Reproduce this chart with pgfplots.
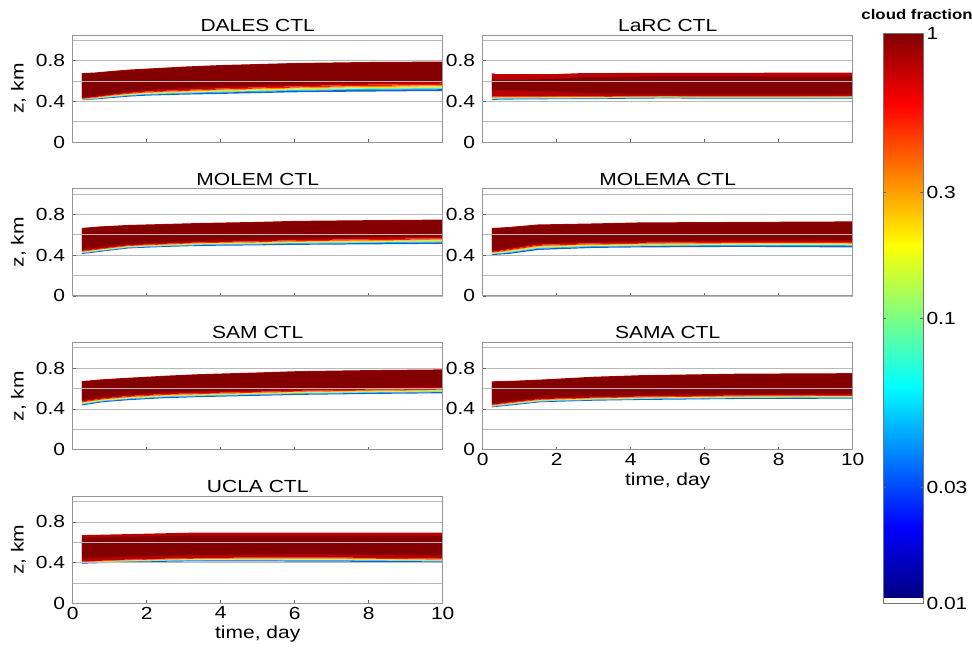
\documentclass[border=0pt]{standalone}
\usepackage{pgfplots}
\pgfplotsset{compat=1.18}
\usepgfplotslibrary{fillbetween}
\usepackage{pgfplotstable}
\usepackage{fontspec}
\setmainfont{Liberation Sans}[FakeStretch=1.2]

\definecolor{cdark}{RGB}{132,0,0}
\definecolor{cred}{RGB}{185,0,0}
\definecolor{cr2}{RGB}{235,20,0}
\definecolor{corange}{RGB}{255,130,0}
\definecolor{cyellow}{RGB}{255,225,0}
\definecolor{cgreen}{RGB}{140,255,120}
\definecolor{ccyan}{RGB}{0,205,255}
\definecolor{cblue}{RGB}{25,95,215}
\definecolor{axgray}{RGB}{150,150,150}
\definecolor{gridgray}{RGB}{185,185,185}

% t: time (day); top/base: cloud top and base of the solid cloud; ctop/cbot: dark core; low: lowest cloudy level
\pgfplotstableread{
t top ctop cbot base low
0.25 0.675 0.670 0.440 0.425 0.410
0.6 0.682 0.677 0.455 0.440 0.418
1.0 0.695 0.690 0.475 0.460 0.430
1.5 0.710 0.705 0.495 0.480 0.445
2 0.720 0.715 0.510 0.495 0.455
3 0.740 0.735 0.530 0.510 0.465
4 0.755 0.750 0.545 0.525 0.472
5 0.765 0.760 0.555 0.535 0.480
6 0.775 0.770 0.565 0.545 0.488
7 0.780 0.775 0.575 0.555 0.492
8 0.785 0.780 0.582 0.562 0.495
9 0.787 0.782 0.588 0.568 0.498
10 0.790 0.785 0.592 0.572 0.500
}\dales

\pgfplotstableread{
t top ctop cbot base low
0.25 0.675 0.620 0.500 0.445 0.410
0.4 0.665 0.610 0.510 0.445 0.415
1 0.665 0.610 0.505 0.445 0.418
2 0.667 0.620 0.495 0.447 0.420
2.6 0.675 0.635 0.480 0.448 0.420
4 0.678 0.640 0.475 0.450 0.425
5 0.678 0.645 0.470 0.452 0.428
6 0.678 0.645 0.470 0.450 0.425
8 0.680 0.645 0.470 0.450 0.425
10 0.680 0.645 0.470 0.452 0.425
}\larc

\pgfplotstableread{
t top ctop cbot base low
0.25 0.666 0.660 0.455 0.440 0.410
0.7 0.680 0.675 0.475 0.460 0.430
1.5 0.695 0.690 0.510 0.495 0.465
2.5 0.705 0.700 0.525 0.510 0.480
3.5 0.715 0.710 0.540 0.525 0.490
5 0.725 0.720 0.550 0.535 0.495
6 0.735 0.730 0.560 0.545 0.500
8 0.742 0.737 0.575 0.555 0.505
10 0.748 0.743 0.585 0.565 0.510
}\molem

\pgfplotstableread{
t top ctop cbot base low
0.25 0.665 0.660 0.445 0.430 0.400
0.7 0.675 0.670 0.470 0.455 0.410
1.5 0.700 0.695 0.515 0.500 0.450
3 0.710 0.705 0.530 0.515 0.470
4.25 0.720 0.715 0.535 0.520 0.475
7 0.725 0.720 0.545 0.530 0.480
10 0.730 0.725 0.545 0.530 0.475
}\molema

\pgfplotstableread{
t top ctop cbot base low
0.25 0.672 0.667 0.485 0.472 0.433
0.8 0.690 0.685 0.515 0.500 0.465
1.5 0.705 0.700 0.540 0.525 0.485
2.5 0.725 0.720 0.560 0.545 0.505
3.4 0.740 0.735 0.570 0.553 0.515
5 0.757 0.752 0.585 0.567 0.528
6.1 0.770 0.765 0.595 0.577 0.537
8 0.780 0.775 0.605 0.588 0.546
10 0.787 0.782 0.615 0.597 0.553
}\sam

\pgfplotstableread{
t top ctop cbot base low
0.25 0.670 0.665 0.455 0.440 0.415
0.8 0.675 0.670 0.480 0.465 0.435
1.55 0.687 0.682 0.510 0.495 0.465
3 0.715 0.710 0.525 0.510 0.480
4.25 0.730 0.725 0.535 0.520 0.487
6.9 0.745 0.740 0.545 0.530 0.497
10 0.750 0.745 0.550 0.535 0.500
}\sama

\pgfplotstableread{
t top ctop cbot base low
0.25 0.670 0.645 0.440 0.410 0.390
1.5 0.680 0.655 0.460 0.430 0.403
3.3 0.695 0.665 0.475 0.445 0.413
5 0.695 0.665 0.480 0.450 0.412
7 0.695 0.665 0.480 0.450 0.410
10 0.695 0.665 0.470 0.440 0.403
}\ucla

\newcommand{\cloud}[1]{%
\addplot[draw=none,name path=T] table[x=t,y=top]{#1};
\addplot[draw=none,name path=CT] table[x=t,y=ctop]{#1};
\addplot[draw=none,name path=CB] table[x=t,y=cbot]{#1};
\addplot[draw=none,name path=BA] table[x=t,y=base]{#1};
\addplot[draw=none,name path=BB] table[x=t,y expr=\thisrow{base}-0.20*(\thisrow{base}-\thisrow{low})]{#1};
\addplot[draw=none,name path=BC] table[x=t,y expr=\thisrow{base}-0.35*(\thisrow{base}-\thisrow{low})]{#1};
\addplot[draw=none,name path=BD] table[x=t,y expr=\thisrow{base}-0.50*(\thisrow{base}-\thisrow{low})]{#1};
\addplot[draw=none,name path=BE] table[x=t,y expr=\thisrow{base}-0.62*(\thisrow{base}-\thisrow{low})]{#1};
\addplot[draw=none,name path=BF] table[x=t,y expr=\thisrow{base}-0.75*(\thisrow{base}-\thisrow{low})]{#1};
\addplot[draw=none,name path=BG] table[x=t,y=low]{#1};
\addplot[cred] fill between[of=T and BA];
\addplot[cdark] fill between[of=CT and CB];
\addplot[cr2] fill between[of=BA and BB];
\addplot[corange] fill between[of=BB and BC];
\addplot[cyellow] fill between[of=BC and BD];
\addplot[cgreen] fill between[of=BD and BE];
\addplot[ccyan] fill between[of=BE and BF];
\addplot[cblue] fill between[of=BF and BG];
}

\pgfplotsset{
  every axis title/.style={at={(0.5,1)},anchor=south,font=\fontsize{17.5}{21}\selectfont},
  panel/.style={
    scale only axis, width=370pt, height=107pt,
    xmin=0, xmax=10, ymin=0, ymax=1.05,
    xtick={0,2,4,6,8,10}, ytick={0,0.4,0.8}, minor ytick={0.2,0.6,1.0},
    xtick pos=bottom, ytick pos=left,
    ymajorgrids, yminorgrids,
    major grid style={gridgray, line width=0.6pt},
    minor grid style={gridgray, line width=0.6pt},
    axis line style={axgray, line width=0.7pt},
    tick style={black!60, line width=0.5pt},
    tick align=inside, major tick length=3pt, minor tick length=0pt,
    axis on top,
    tick label style={font=\fontsize{17.5}{21}\selectfont},
    label style={font=\fontsize{17.5}{21}\selectfont},
    /pgf/number format/assume math mode=true,
    yticklabel style={xshift=-4pt},
  },
  leftpanel/.style={panel, ylabel={z, km},
    ylabel style={at={(axis description cs:-0.147,0.5)}, anchor=center}},
  notime/.style={xticklabels={}},
  withtime/.style={xlabel={time, day}},
}

\begin{document}
\begin{tikzpicture}
\begin{axis}[leftpanel, notime, at={(72.7pt,-142pt)}, anchor=south west, title={DALES CTL}]
\cloud{\dales}
\end{axis}
\begin{axis}[panel, notime, at={(482.7pt,-142pt)}, anchor=south west, title={LaRC CTL}]
\cloud{\larc}
\end{axis}
\begin{axis}[leftpanel, notime, at={(72.7pt,-295.8pt)}, anchor=south west, title={MOLEM CTL}]
\cloud{\molem}
\end{axis}
\begin{axis}[panel, notime, at={(482.7pt,-295.8pt)}, anchor=south west, title={MOLEMA CTL}]
\cloud{\molema}
\end{axis}
\begin{axis}[leftpanel, notime, at={(72.7pt,-449.6pt)}, anchor=south west, title={SAM CTL}]
\cloud{\sam}
\end{axis}
\begin{axis}[panel, withtime, at={(482.7pt,-449.6pt)}, anchor=south west, title={SAMA CTL}]
\cloud{\sama}
\end{axis}
\begin{axis}[leftpanel, withtime, at={(72.7pt,-603.4pt)}, anchor=south west, title={UCLA CTL}]
\cloud{\ucla}
\end{axis}
% colour bar
\begin{axis}[at={(883pt,-603pt)}, anchor=south west, scale only axis,
  width=40pt, height=570pt, xmin=0, xmax=1, ymin=-2, ymax=0,
  xtick=\empty, ytick={-2,-1.593,-1,-0.558,0}, yticklabels={0.01,0.03,0.1,0.3,1},
  yticklabel pos=right, tick align=inside, major tick length=3pt,
  tick style={black!60, line width=0.5pt},
  axis line style={black!55, line width=0.7pt}, axis on top,
  colormap/jet, point meta min=-1.982, point meta max=0,
  tick label style={font=\fontsize{17.5}{21}\selectfont},
  title={cloud fraction},
  title style={font=\fontsize{14}{17}\bfseries\selectfont, xshift=14pt, yshift=10pt}]
\addplot[surf, shader=interp, mesh/rows=6, point meta=\thisrow{c}] table {
x y c
0 -1.982 -1.982
1 -1.982 -1.982
0 -1.7343 -1.7343
1 -1.7343 -1.7343
0 -1.2388 -1.2388
1 -1.2388 -1.2388
0 -0.7433 -0.7433
1 -0.7433 -0.7433
0 -0.2478 -0.2478
1 -0.2478 -0.2478
0 0 0
1 0 0
};
\end{axis}
\pgfresetboundingbox
\path[use as bounding box] (0pt,0pt) rectangle (972pt,-662pt);
\end{tikzpicture}
\end{document}
